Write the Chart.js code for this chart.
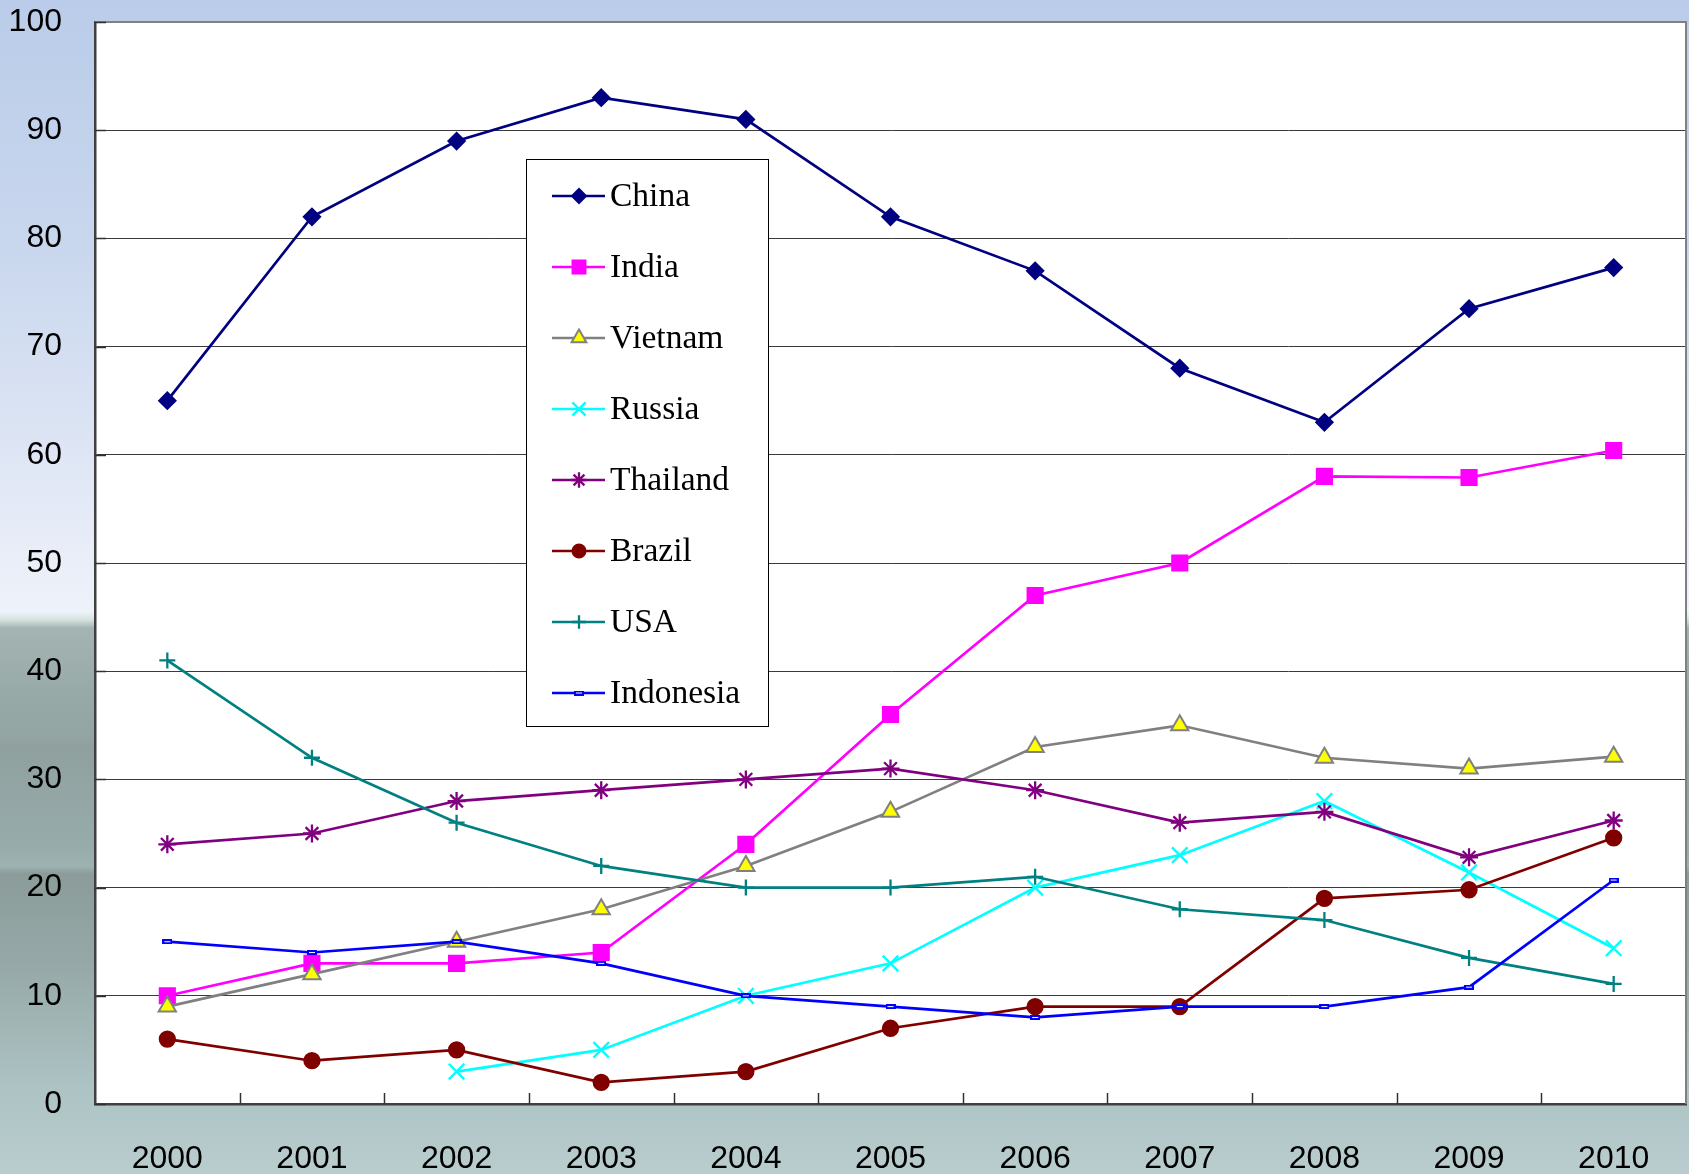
<!DOCTYPE html>
<html>
<head>
<meta charset="utf-8">
<script src="https://cdn.jsdelivr.net/npm/chart.js@4.4.1/dist/chart.umd.min.js"></script>
<style>
html,body{margin:0;padding:0;}
body{width:1689px;height:1174px;overflow:hidden;
background:linear-gradient(to bottom,#bacce9 0px,#c9d7ee 250px,#e3e9f6 500px,#eef2fa 612px,#d4e2dd 620px,#a3b4b2 628px,#97a9a7 700px,#93a5a3 738px,#8fa09e 745px,#98acac 850px,#9fb2b2 866px,#8b9c9a 874px,#95a8a7 960px,#aec3c4 1090px,#b9cdce 1174px);}
canvas{display:block;}
</style>
</head>
<body>
<canvas id="c" width="1689" height="1174"></canvas>
<script>
const years = ['2000','2001','2002','2003','2004','2005','2006','2007','2008','2009','2010'];
const seriesNames = ['China','India','Vietnam','Russia','Thailand','Brazil','USA','Indonesia'];
const china     = [65, 82, 89, 93, 91, 82, 77, 68, 63, 73.5, 77.3];
const india     = [10, 13, 13, 14, 24, 36, 47, 50, 58, 57.9, 60.4];
const vietnam   = [9, 12, 15, 18, 22, 27, 33, 35, 32, 31, 32.1];
const russia    = [null, null, 3, 5, 10, 13, 20, 23, 28, 21.4, 14.4];
const thailand  = [24, 25, 28, 29, 30, 31, 29, 26, 27, 22.8, 26.2];
const brazil    = [6, 4, 5, 2, 3, 7, 9, 9, 19, 19.8, 24.6];
const usa       = [41, 32, 26, 22, 20, 20, 21, 18, 17, 13.5, 11.1];
const indonesia = [15, 14, 15, 13, 10, 9, 8, 9, 9, 10.8, 20.7];
const yTicks = [0,10,20,30,40,50,60,70,80,90,100];

// Indonesia marker: small horizontal bar
const dash = document.createElement('canvas');
dash.width = 10; dash.height = 5;
(function(){const g=dash.getContext('2d');g.fillStyle='#0000ff';g.fillRect(0,0,10,5);g.fillStyle='#ffffff';g.fillRect(2,2,6,1);})();

const styles = [
  {c:'#000080', s:'rectRot', r:8, bg:'#000080'},
  {c:'#ff00ff', s:'rect', r:10.5, bg:'#ff00ff'},
  {c:'#808080', s:'triangle', r:10, bg:'#ffff00'},
  {c:'#00ffff', s:'crossRot', r:11, bg:'#00ffff'},
  {c:'#800080', s:'star', r:9, bg:'#800080'},
  {c:'#800000', s:'circle', r:7.5, bg:'#800000'},
  {c:'#008080', s:'cross', r:8, bg:'#008080'},
  {c:'#0000ff', s:dash, r:5, bg:'#0000ff'}
];
const allData = [china, india, vietnam, russia, thailand, brazil, usa, indonesia];

const datasets = allData.map((d,i)=>({
  label: seriesNames[i],
  data: d,
  borderColor: styles[i].c,
  backgroundColor: styles[i].bg,
  pointStyle: styles[i].s,
  pointRadius: styles[i].r,
  pointBorderColor: styles[i].c,
  pointBackgroundColor: styles[i].bg,
  pointBorderWidth: (styles[i].s==='triangle') ? 2 : 2.3,
  borderWidth: 2.7,
  tension: 0,
  spanGaps: false,
  order: 10 - i,
  clip: false
}));

const decor = {
  id: 'decor',
  beforeDraw(chart){
    const {ctx, chartArea:a} = chart;
    ctx.save();
    ctx.fillStyle = '#ffffff';
    ctx.fillRect(a.left, a.top, a.right-a.left, a.bottom-a.top);
    ctx.restore();
  },
  afterDatasetsDraw(chart){
    const {ctx, chartArea:a, scales} = chart;
    ctx.save();
    // top & right border
    ctx.strokeStyle = '#808080'; ctx.lineWidth = 2;
    ctx.beginPath();
    ctx.moveTo(a.left, a.top); ctx.lineTo(a.right, a.top); ctx.lineTo(a.right, a.bottom);
    ctx.stroke();
    // inner ticks on x axis
    ctx.strokeStyle = '#303030'; ctx.lineWidth = 1.5;
    const xs = scales.x;
    for (let i=1;i<years.length;i++){
      const x = Math.round((xs.getPixelForValue(i-1)+xs.getPixelForValue(i))/2)+0.5;
      ctx.beginPath(); ctx.moveTo(x, a.bottom); ctx.lineTo(x, a.bottom-11); ctx.stroke();
    }
    // inner ticks on y axis
    const ys = scales.y;
    yTicks.forEach(v=>{
      const y = Math.round(ys.getPixelForValue(v))+0.5;
      ctx.beginPath(); ctx.moveTo(a.left, y); ctx.lineTo(a.left+11, y); ctx.stroke();
    });
    // legend box
    const L = 526, T = 159, R = 768, B = 726;
    ctx.fillStyle = '#ffffff';
    ctx.fillRect(L, T, R-L, B-T);
    ctx.strokeStyle = '#000000'; ctx.lineWidth = 1;
    ctx.strokeRect(L+0.5, T+0.5, R-L, B-T);
    ctx.font = '33.5px "Liberation Serif", "Times New Roman", serif';
    ctx.textBaseline = 'middle';
    chart.data.datasets.forEach((ds,i)=>{
      const y = 196 + i*71;
      ctx.strokeStyle = ds.borderColor; ctx.lineWidth = 2.7;
      ctx.beginPath(); ctx.moveTo(552, y); ctx.lineTo(605, y); ctx.stroke();
      ctx.fillStyle = ds.pointBackgroundColor;
      ctx.strokeStyle = ds.pointBorderColor;
      ctx.lineWidth = ds.pointBorderWidth;
      Chart.helpers.drawPoint(ctx, {pointStyle: ds.pointStyle, rotation: 0, radius: ds.pointRadius*0.85, borderWidth: ds.pointBorderWidth}, 579, y);
      ctx.fillStyle = '#000000';
      ctx.fillText(ds.label, 610, y+1);
    });
    ctx.restore();
  }
};

new Chart(document.getElementById('c'), {
  type: 'line',
  data: { labels: years, datasets },
  options: {
    responsive: false,
    animation: false,
    devicePixelRatio: 1,
    layout: { autoPadding: false, padding: { top: 22, right: 3, left: 0, bottom: 0 } },
    plugins: { legend: { display: false }, tooltip: { enabled: false } },
    scales: {
      x: {
        offset: true,
        grid: { display: false, drawTicks: false },
        border: { display: true, color: '#404040', width: 2.5 },
        ticks: { color: '#000', font: { family: '"Liberation Sans", Arial, sans-serif', size: 32 }, padding: 36, maxRotation: 0, autoSkip: false },
        afterFit(s){ s.height = 70; s.paddingLeft = 0; s.paddingRight = 0; }
      },
      y: {
        min: 0, max: 100,
        afterBuildTicks(s){ s.ticks = yTicks.map(v=>({value:v})); },
        grid: { color: '#3a3a3a', lineWidth: 1, drawTicks: false },
        border: { display: true, color: '#404040', width: 2.5 },
        ticks: { color: '#000', font: { family: '"Liberation Sans", Arial, sans-serif', size: 32 }, padding: 33 },
        afterFit(s){ s.width = 95; s.paddingTop = 0; s.paddingBottom = 0; }
      }
    }
  },
  plugins: [decor]
});
</script>
</body>
</html>
